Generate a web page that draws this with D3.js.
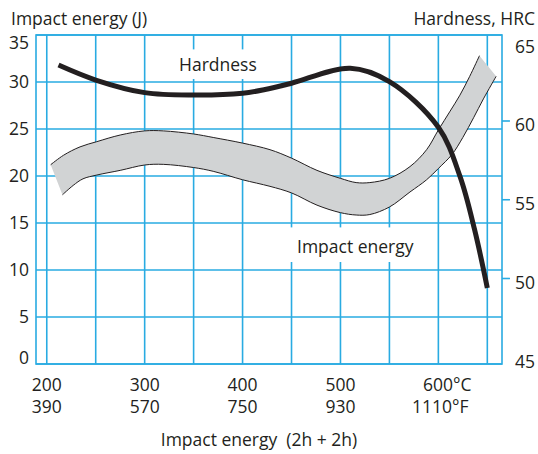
<!DOCTYPE html>
<html><head><meta charset="utf-8">
<script src="https://cdn.jsdelivr.net/npm/d3@7"></script>
<style>body{margin:0;background:#fff}text{font-family:"Open Sans",Lato,sans-serif;fill:#231f20}</style>
</head><body><svg id="c" width="538" height="454"></svg>
<script>
// ---- data ----
const tempGrid = [200,250,300,350,400,450,500,550,600,650];
const tempTicks = [200,300,400,500,600];
const labelsC = ["200","300","400","500","600°C"];
const labelsF = ["390","570","750","930","1110°F"];
const energyTicks = [0,5,10,15,20,25,30,35];
const hardTicks = [45,50,55,60,65];
const hardMarks = [50,55,60];

const hardTemp = [212,250,300,350,400,423,450,510,550,600,622,637,650];
const hardHRC  = [63.55,62.6,61.8,61.65,61.76,62.0,62.4,63.35,62.5,59.6,56.5,53.1,49.4];

const bandUpperT = [204,217,234,251,275,300,319,350,370,400,428,450,476,500,516,530,550,571,588,600,612,622,632,642];
const bandUpperJ = [21.2,22.2,23.1,23.65,24.36,24.8,24.8,24.47,24.1,23.5,22.8,21.9,20.6,19.75,19.3,19.3,19.75,21.0,22.8,24.9,26.9,28.6,30.6,32.8];
const bandLowerT = [216,227,237,251,275,300,319,350,370,400,428,450,476,500,516,530,550,571,588,600,614,625,636,646,659];
const bandLowerJ = [18.0,19.0,19.7,20.1,20.6,21.17,21.24,20.9,20.5,19.6,18.9,18.2,16.9,16.1,15.85,15.9,16.7,18.3,19.6,20.8,22.3,24.1,26.2,28.2,30.6];

// ---- scales ----
const svg = d3.select("#c");
const x = d3.scaleLinear().domain([189,665]).range([36,502]);
const yJ = d3.scaleLinear().domain([0,35]).range([364,35]);
const yH = d3.scaleLinear().domain([45,65]).range([357.25,42.25]);
const grid = "#29abe2", ink = "#231f20";
const [L,R] = x.range(), [B,T] = yJ.range();

// grid
const g = svg.append("g").attr("stroke",grid).attr("stroke-width",1.6).attr("fill","none");
g.selectAll(".v").data(tempGrid).join("line").attr("x1",d=>x(d)).attr("x2",d=>x(d)).attr("y1",T).attr("y2",B);
g.selectAll(".h").data(energyTicks).join("line").attr("x1",L).attr("x2",R).attr("y1",d=>yJ(d)).attr("y2",d=>yJ(d));
g.append("rect").attr("x",L).attr("y",T).attr("width",R-L).attr("height",B-T);
g.selectAll(".t").data(hardMarks).join("line").attr("x1",R).attr("x2",R+8).attr("y1",d=>yH(d)).attr("y2",d=>yH(d));

const fs = 17.5;
// in-plot labels with white boxes
function boxedLabel(txt, tx, ty, padX, padTop, padBot){
  const t = svg.append("text").attr("x",tx).attr("y",ty).attr("font-size",fs).text(txt);
  const bb = t.node().getBBox();
  svg.insert("rect","text").attr("x",bb.x-padX).attr("y",ty-fs*0.72-padTop).attr("width",bb.width+2*padX)
     .attr("height",fs*0.72+padTop+padBot).attr("fill","#fff");
  return t;
}

// band
const bandUpper = bandUpperT.map((t,i)=>[x(t),yJ(bandUpperJ[i])]);
const bandLower = bandLowerT.map((t,i)=>[x(t),yJ(bandLowerJ[i])]);
const curve = d3.curveCatmullRom.alpha(0.5);
const ln = d3.line().curve(curve);
const upPath = ln(bandUpper), loPath = ln(bandLower);
const loRev = ln(bandLower.slice().reverse());
svg.append("path").attr("d", upPath + "L" + loRev.slice(1) + "Z").attr("fill","#d1d3d4").attr("stroke","none");
svg.append("path").attr("d", upPath).attr("fill","none").attr("stroke",ink).attr("stroke-width",1);
svg.append("path").attr("d", loPath).attr("fill","none").attr("stroke",ink).attr("stroke-width",1);

// hardness line
svg.append("path").datum(hardTemp.map((t,i)=>[x(t),yH(hardHRC[i])]))
  .attr("d", ln).attr("fill","none").attr("stroke",ink).attr("stroke-width",5);

boxedLabel("Hardness", 179, 71, 4, 9, 8);
boxedLabel("Impact energy", 297, 253, 7, 13, 9);

// left axis labels
svg.selectAll(".yl").data(energyTicks).join("text")
  .attr("x",29).attr("text-anchor","end").attr("font-size",fs)
  .attr("y",d=>Math.min(Math.max(yJ(d),T+7.7),B-6)+fs*0.36).text(d=>d);
// right axis labels
svg.selectAll(".yr").data(hardTicks).join("text")
  .attr("x",515).attr("font-size",fs)
  .attr("y",d=>yH(d)+4+fs*0.36).text(d=>d);
// x labels
svg.selectAll(".xc").data(tempTicks).join("text")
  .attr("x",(d,i)=>x(d)+(i===tempTicks.length-1?9:0)).attr("y",391).attr("text-anchor","middle").attr("font-size",fs)
  .text((d,i)=>labelsC[i]);
svg.selectAll(".xf").data(tempTicks).join("text")
  .attr("x",(d,i)=>x(d)+(i===tempTicks.length-1?2:0)).attr("y",413).attr("text-anchor","middle").attr("font-size",fs)
  .text((d,i)=>labelsF[i]);

// titles
svg.append("text").attr("x",11).attr("y",25).attr("font-size",fs).text("Impact energy (J)");
svg.append("text").attr("x",535).attr("y",25).attr("text-anchor","end").attr("font-size",fs).text("Hardness, HRC");
svg.append("text").attr("x",259).attr("y",446).attr("text-anchor","middle").attr("font-size",fs).attr("xml:space","preserve").text("Impact energy  (2h + 2h)");
</script></body></html>
